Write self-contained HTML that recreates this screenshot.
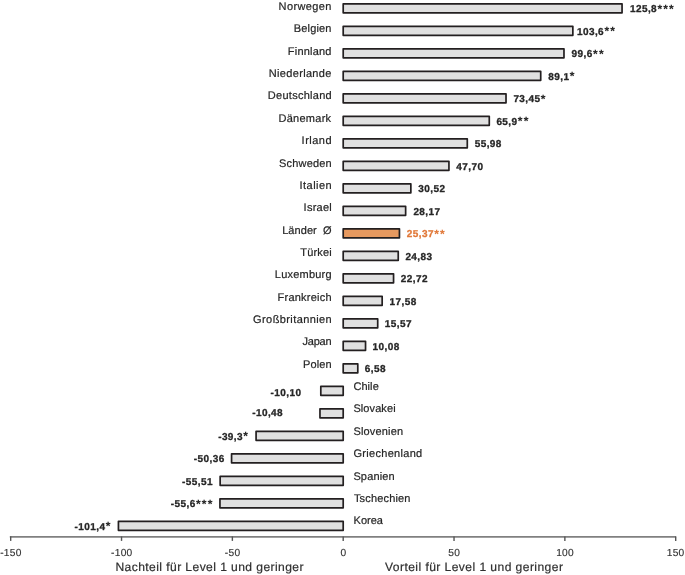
<!DOCTYPE html>
<html lang="de"><head><meta charset="utf-8"><title>Level 1 und geringer</title>
<style>
html,body{margin:0;padding:0;background:#fff}
body{width:685px;height:575px;overflow:hidden}
svg{display:block}
text{font-family:"Liberation Sans",sans-serif;white-space:pre;text-rendering:geometricPrecision}
.n{font-size:11.0px;fill:#262626;stroke:#262626;stroke-width:.2}
.v{font-size:10.0px;font-weight:bold;fill:#262626;stroke:#262626;stroke-width:.3;stroke-linejoin:round}
.s{font-size:12.0px;stroke-width:.1}
.o{fill:#E1793A;stroke:#E1793A}
.t{font-size:10.2px;fill:#333;stroke:#333;stroke-width:.15}
.a{font-size:12.1px;fill:#303030;stroke:#303030;stroke-width:.2}
.b{fill:#E0E0E0;stroke:#231F20;stroke-width:1.7;stroke-linejoin:round}
.bo{fill:#E6995F}
</style></head><body>
<svg width="685" height="575" viewBox="0 0 685 575">
<rect width="685" height="575" fill="#fff"/>

<rect class="b" x="343.20" y="3.85" width="278.86" height="9.00"/>
<text id="n0" class="n" x="278.55" y="10.00" letter-spacing="0.400">Norwegen</text>
<text id="v0" class="v" x="629.95" y="12.00" letter-spacing="0.42">125,8<tspan class="s" dx="0.300" dy="0.90" letter-spacing="1.200">***</tspan></text>
<rect class="b" x="343.20" y="26.35" width="229.65" height="9.00"/>
<text id="n1" class="n" x="293.85" y="32.36" letter-spacing="0.158">Belgien</text>
<text id="v1" class="v" x="576.95" y="34.50" letter-spacing="0.42">103,6<tspan class="s" dx="0.300" dy="0.90" letter-spacing="1.200">**</tspan></text>
<rect class="b" x="343.20" y="48.85" width="220.78" height="9.00"/>
<text id="n2" class="n" x="287.85" y="54.72" letter-spacing="0.207">Finnland</text>
<text id="v2" class="v" x="571.60" y="57.00" letter-spacing="0.42">99,6<tspan class="s" dx="0.300" dy="0.90" letter-spacing="1.200">**</tspan></text>
<rect class="b" x="343.20" y="71.35" width="197.51" height="9.00"/>
<text id="n3" class="n" x="268.85" y="77.08" letter-spacing="0.320">Niederlande</text>
<text id="v3" class="v" x="548.35" y="79.50" letter-spacing="0.42">89,1<tspan class="s" dx="0.300" dy="0.90" letter-spacing="1.200">*</tspan></text>
<rect class="b" x="343.20" y="93.85" width="162.82" height="9.00"/>
<text id="n4" class="n" x="267.85" y="99.44" letter-spacing="0.270">Deutschland</text>
<text id="v4" class="v" x="513.40" y="102.00" letter-spacing="0.42">73,45<tspan class="s" dx="0.300" dy="0.90" letter-spacing="1.200">*</tspan></text>
<rect class="b" x="343.20" y="116.35" width="146.08" height="9.00"/>
<text id="n5" class="n" x="278.55" y="121.80" letter-spacing="0.257">Dänemark</text>
<text id="v5" class="v" x="496.40" y="124.50" letter-spacing="0.42">65,9<tspan class="s" dx="0.300" dy="0.90" letter-spacing="1.200">**</tspan></text>
<rect class="b" x="343.20" y="138.85" width="124.09" height="9.00"/>
<text id="n6" class="n" x="301.60" y="144.16" letter-spacing="0.490">Irland</text>
<text id="v6" class="v" x="474.70" y="147.00" letter-spacing="0.42">55,98</text>
<rect class="b" x="343.20" y="161.35" width="105.74" height="9.00"/>
<text id="n7" class="n" x="279.05" y="166.52" letter-spacing="0.185">Schweden</text>
<text id="v7" class="v" x="456.35" y="169.50" letter-spacing="0.42">47,70</text>
<rect class="b" x="343.20" y="183.85" width="67.65" height="9.00"/>
<text id="n8" class="n" x="299.60" y="188.88" letter-spacing="0.450">Italien</text>
<text id="v8" class="v" x="418.35" y="192.00" letter-spacing="0.42">30,52</text>
<rect class="b" x="343.20" y="206.35" width="62.44" height="9.00"/>
<text id="n9" class="n" x="303.60" y="211.24" letter-spacing="0.240">Israel</text>
<text id="v9" class="v" x="413.40" y="214.50" letter-spacing="0.42">28,17</text>
<rect class="b bo" x="343.20" y="228.85" width="56.24" height="9.00"/>
<text id="n10" class="n" x="282.20" y="233.60" letter-spacing="0.055">Länder  Ø</text>
<text id="v10" class="v o" x="406.75" y="237.00" letter-spacing="0.42">25,37<tspan class="s" dx="0.300" dy="0.90" letter-spacing="1.200">**</tspan></text>
<rect class="b" x="343.20" y="251.35" width="55.04" height="9.00"/>
<text id="n11" class="n" x="300.35" y="255.96" letter-spacing="0.140">Türkei</text>
<text id="v11" class="v" x="405.40" y="259.50" letter-spacing="0.42">24,83</text>
<rect class="b" x="343.20" y="273.85" width="50.36" height="9.00"/>
<text id="n12" class="n" x="274.85" y="278.32" letter-spacing="0.212">Luxemburg</text>
<text id="v12" class="v" x="400.75" y="282.00" letter-spacing="0.42">22,72</text>
<rect class="b" x="343.20" y="296.35" width="38.97" height="9.00"/>
<text id="n13" class="n" x="277.55" y="300.68" letter-spacing="0.227">Frankreich</text>
<text id="v13" class="v" x="389.50" y="304.50" letter-spacing="0.42">17,58</text>
<rect class="b" x="343.20" y="318.85" width="34.51" height="9.00"/>
<text id="n14" class="n" x="253.10" y="323.04" letter-spacing="0.400">Großbritannien</text>
<text id="v14" class="v" x="384.85" y="327.00" letter-spacing="0.42">15,57</text>
<rect class="b" x="343.20" y="341.35" width="22.34" height="9.00"/>
<text id="n15" class="n" x="302.60" y="345.40" letter-spacing="-0.263">Japan</text>
<text id="v15" class="v" x="372.50" y="349.50" letter-spacing="0.42">10,08</text>
<rect class="b" x="343.20" y="363.85" width="14.59" height="9.00"/>
<text id="n16" class="n" x="302.90" y="367.76" letter-spacing="0.149">Polen</text>
<text id="v16" class="v" x="364.75" y="372.00" letter-spacing="0.42">6,58</text>
<rect class="b" x="320.81" y="386.35" width="22.39" height="9.00"/>
<text id="n17" class="n" x="353.40" y="390.12" letter-spacing="0.074">Chile</text>
<text id="v17" class="v" x="270.55" y="395.70" letter-spacing="0.42">-10,10</text>
<rect class="b" x="319.97" y="408.85" width="23.23" height="9.00"/>
<text id="n18" class="n" x="353.40" y="412.48" letter-spacing="0.086">Slovakei</text>
<text id="v18" class="v" x="252.20" y="416.30" letter-spacing="0.42">-10,48</text>
<rect class="b" x="256.08" y="431.35" width="87.12" height="9.00"/>
<text id="n19" class="n" x="353.40" y="434.84" letter-spacing="0.175">Slovenien</text>
<text id="v19" class="v" x="218.15" y="439.50" letter-spacing="0.42">-39,3<tspan class="s" dx="0.300" dy="0.90" letter-spacing="1.200">*</tspan></text>
<rect class="b" x="231.57" y="453.85" width="111.63" height="9.00"/>
<text id="n20" class="n" x="353.40" y="457.20" letter-spacing="0.310">Griechenland</text>
<text id="v20" class="v" x="193.75" y="462.00" letter-spacing="0.42">-50,36</text>
<rect class="b" x="220.15" y="476.35" width="123.05" height="9.00"/>
<text id="n21" class="n" x="353.40" y="479.56" letter-spacing="0.142">Spanien</text>
<text id="v21" class="v" x="182.10" y="484.50" letter-spacing="0.42">-55,51</text>
<rect class="b" x="219.95" y="498.85" width="123.25" height="9.00"/>
<text id="n22" class="n" x="353.95" y="501.92" letter-spacing="0.167">Tschechien</text>
<text id="v22" class="v" x="170.80" y="507.00" letter-spacing="0.42">-55,6<tspan class="s" dx="0.300" dy="0.90" letter-spacing="1.200">***</tspan></text>
<rect class="b" x="118.43" y="521.35" width="224.77" height="9.00"/>
<text id="n23" class="n" x="353.55" y="524.28" letter-spacing="0.013">Korea</text>
<text id="v23" class="v" x="74.60" y="529.50" letter-spacing="0.42">-101,4<tspan class="s" dx="0.300" dy="0.90" letter-spacing="1.200">*</tspan></text>
<path d="M9.8 536.85H676.1" fill="none" stroke="#808080" stroke-width="1.8"/>
<path d="M10.69 536.4V540.9" stroke="#555" stroke-width="1.4"/>
<path d="M121.53 536.4V540.9" stroke="#555" stroke-width="1.4"/>
<path d="M232.37 536.4V540.9" stroke="#555" stroke-width="1.4"/>
<path d="M343.20 536.4V540.9" stroke="#555" stroke-width="1.4"/>
<path d="M454.03 536.4V540.9" stroke="#555" stroke-width="1.4"/>
<path d="M564.87 536.4V540.9" stroke="#555" stroke-width="1.4"/>
<path d="M675.70 536.4V540.9" stroke="#555" stroke-width="1.4"/>
<text id="t0" class="t" x="10.94" y="556" text-anchor="middle" letter-spacing="0.3">-150</text>
<text id="t1" class="t" x="121.78" y="556" text-anchor="middle" letter-spacing="0.3">-100</text>
<text id="t2" class="t" x="232.62" y="556" text-anchor="middle" letter-spacing="0.3">-50</text>
<text id="t3" class="t" x="343.45" y="556" text-anchor="middle" letter-spacing="0.3">0</text>
<text id="t4" class="t" x="454.28" y="556" text-anchor="middle" letter-spacing="0.3">50</text>
<text id="t5" class="t" x="565.12" y="556" text-anchor="middle" letter-spacing="0.3">100</text>
<text id="t6" class="t" x="675.65" y="556" text-anchor="middle" letter-spacing="0.3">150</text>
<text id="a0" class="a" x="115.45" y="570.6" letter-spacing="0.416">Nachteil für Level 1 und geringer</text>
<text id="a1" class="a" x="385.00" y="570.6" letter-spacing="0.427">Vorteil für Level 1 und geringer</text>
</svg></body></html>
